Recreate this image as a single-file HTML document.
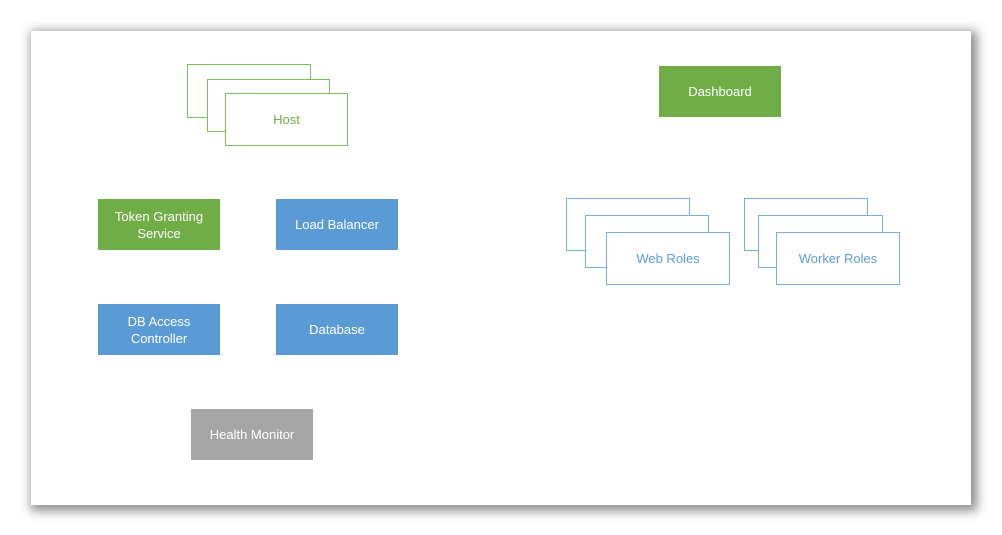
<!DOCTYPE html>
<html><head><meta charset="utf-8"><style>
html,body{margin:0;padding:0;background:#fff;}
body{width:1002px;height:535px;position:relative;overflow:hidden;font-family:"Liberation Sans",sans-serif;}
#card{position:absolute;left:31px;top:31px;width:940px;height:474px;background:#fff;box-shadow:3px 3px 10px 3px rgba(0,0,0,0.45);}
.b{position:absolute;box-sizing:border-box;display:flex;align-items:center;justify-content:center;text-align:center;font-size:13px;line-height:17px;}
.f{color:#fff;}
.g{background:#70ad47;}.bl{background:#5b9bd5;}.gr{background:#a5a5a5;}
.og{border:1px solid #82bb5e;background:#fff;color:#70ad47;}
.ob{border:1px solid #7aaee0;background:#fff;color:#5b9bd5;}
</style></head><body>
<div id="card"></div>
<div class="b og" style="left:187px;top:64px;width:124px;height:54px"></div>
<div class="b og" style="left:207px;top:79px;width:123px;height:53px"></div>
<div class="b og" style="left:225px;top:93px;width:123px;height:53px">Host</div>

<div class="b f g" style="left:659px;top:66px;width:122px;height:51px">Dashboard</div>

<div class="b f g" style="left:98px;top:199px;width:122px;height:51px">Token Granting<br>Service</div>
<div class="b f bl" style="left:276px;top:199px;width:122px;height:51px">Load Balancer</div>
<div class="b f bl" style="left:98px;top:304px;width:122px;height:51px">DB Access<br>Controller</div>
<div class="b f bl" style="left:276px;top:304px;width:122px;height:51px">Database</div>
<div class="b f gr" style="left:191px;top:409px;width:122px;height:51px">Health Monitor</div>

<div class="b ob" style="left:566px;top:198px;width:124px;height:53px"></div>
<div class="b ob" style="left:585px;top:215px;width:124px;height:53px"></div>
<div class="b ob" style="left:606px;top:232px;width:124px;height:53px">Web Roles</div>

<div class="b ob" style="left:744px;top:198px;width:124px;height:53px"></div>
<div class="b ob" style="left:758px;top:215px;width:125px;height:53px"></div>
<div class="b ob" style="left:776px;top:232px;width:124px;height:53px">Worker Roles</div>
</body></html>
